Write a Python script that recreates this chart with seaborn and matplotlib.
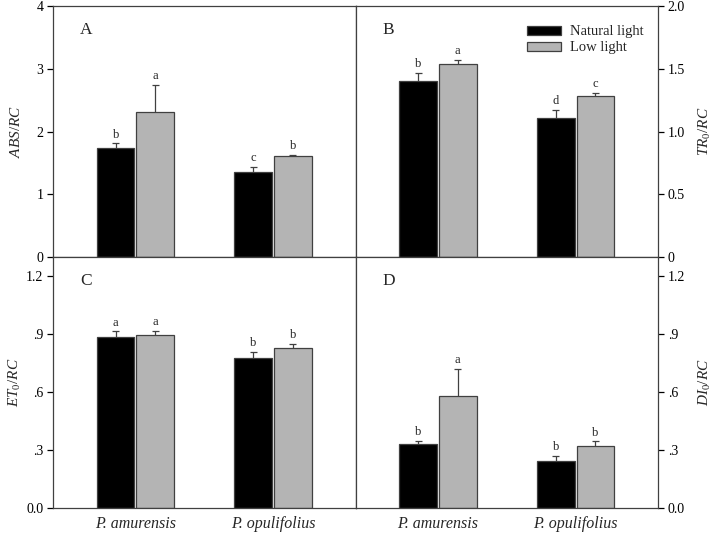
import pandas as pd
import matplotlib
matplotlib.use("Agg")
import matplotlib.pyplot as plt
import seaborn as sns

# data
species = ['P. amurensis', 'P. opulifolius']
lights = ['Natural light', 'Low light']

abs_nat = [1.74, 1.35]
abs_low = [2.31, 1.61]
abs_nat_err = [0.07, 0.09]
abs_low_err = [0.43, 0.02]
abs_nat_sig = ['b', 'c']
abs_low_sig = ['a', 'b']

tr_nat = [1.405, 1.111]
tr_low = [1.536, 1.286]
tr_nat_err = [0.062, 0.061]
tr_low_err = [0.037, 0.024]
tr_nat_sig = ['b', 'd']
tr_low_sig = ['a', 'c']

et_nat = [0.888, 0.777]
et_low = [0.898, 0.831]
et_nat_err = [0.027, 0.031]
et_low_err = [0.019, 0.019]
et_nat_sig = ['a', 'b']
et_low_sig = ['a', 'b']

di_nat = [0.332, 0.242]
di_low = [0.579, 0.323]
di_nat_err = [0.017, 0.027]
di_low_err = [0.141, 0.022]
di_nat_sig = ['b', 'b']
di_low_sig = ['a', 'b']

sns.set_style("ticks")
plt.rcParams['font.family'] = ['Liberation Serif', 'DejaVu Serif']
plt.rcParams['mathtext.fontset'] = 'custom'
plt.rcParams['mathtext.it'] = 'Liberation Serif:italic'
plt.rcParams['mathtext.rm'] = 'Liberation Serif'

edge = '#404040'
colors = ['black', '#b4b4b4']

fig, axes = plt.subplots(2, 2, figsize=(7.14, 5.36), dpi=100)
fig.subplots_adjust(left=0.0742, right=0.9216, top=0.9888, bottom=0.0522,
                    wspace=0, hspace=0)

panels = [
    ('A', axes[0, 0], abs_nat, abs_low, abs_nat_err, abs_low_err, abs_nat_sig, abs_low_sig,
     r'$\mathit{ABS/RC}$', (0, 4), [0, 1, 2, 3, 4], ['0', '1', '2', '3', '4']),
    ('B', axes[0, 1], tr_nat, tr_low, tr_nat_err, tr_low_err, tr_nat_sig, tr_low_sig,
     r'$\mathit{TR_0/RC}$', (0, 2), [0, 0.5, 1, 1.5, 2], ['0', '0.5', '1.0', '1.5', '2.0']),
    ('C', axes[1, 0], et_nat, et_low, et_nat_err, et_low_err, et_nat_sig, et_low_sig,
     r'$\mathit{ET_0/RC}$', (0, 1.3), [0, 0.3, 0.6, 0.9, 1.2], ['0.0', '.3', '.6', '.9', '1.2']),
    ('D', axes[1, 1], di_nat, di_low, di_nat_err, di_low_err, di_nat_sig, di_low_sig,
     r'$\mathit{DI_0/RC}$', (0, 1.3), [0, 0.3, 0.6, 0.9, 1.2], ['0.0', '.3', '.6', '.9', '1.2']),
]

for tag, ax, nat, low, nat_err, low_err, nat_sig, low_sig, ylab, ylim, yt, ytl in panels:
    df = pd.DataFrame({
        'species': species * 2,
        'light': [lights[0]] * 2 + [lights[1]] * 2,
        'value': nat + low,
    })
    sns.barplot(data=df, x='species', y='value', hue='light', hue_order=lights,
                palette=colors, width=0.575, gap=0.05, errorbar=None,
                edgecolor=edge, linewidth=0.9, legend=(tag == 'B'), ax=ax)

    # upper error bars + significance letters
    for cont, errs, sigs in zip(ax.containers, [nat_err, low_err], [nat_sig, low_sig]):
        for bar, e, s in zip(cont, errs, sigs):
            xc = bar.get_x() + bar.get_width() / 2
            top = bar.get_height()
            ax.vlines(xc, top, top + e, color=edge, lw=0.9)
            ax.hlines(top + e, xc - 0.027, xc + 0.027, color=edge, lw=0.9)
            ax.annotate(s, (xc, top + e), xytext=(0, 2), textcoords='offset points',
                        ha='center', va='bottom', fontsize=9)

    ax.set_xlim(-0.6, 1.6)
    ax.set_ylim(*ylim)
    ax.set_yticks(yt)
    ax.set_yticklabels(ytl)
    ax.set_xlabel('')
    ax.set_ylabel(ylab, fontsize=11)
    ax.tick_params(axis='y', direction='out', length=4, width=0.9, colors='black',
                   labelsize=10, pad=3)
    ax.tick_params(axis='x', length=0, labelsize=11.5, pad=6)
    for sp in ax.spines.values():
        sp.set_visible(True)
        sp.set_color(edge)
        sp.set_linewidth(0.9)
    if tag in ('A', 'B'):
        ax.set_xticklabels([])
    else:
        for lab in ax.get_xticklabels():
            lab.set_fontstyle('italic')
    if tag in ('B', 'D'):
        ax.yaxis.tick_right()
        ax.yaxis.set_label_position('right')
        ax.yaxis.set_label_coords(1.13, 0.5)
    else:
        ax.yaxis.set_label_coords(-0.10, 0.5)
    ax.text(0.09, 0.935, tag, transform=ax.transAxes, fontsize=12.5, va='top', ha='left')

sns.move_legend(axes[0, 1], 'upper right', bbox_to_anchor=(0.995, 0.975), frameon=False,
                title=None, fontsize=10.5, handlelength=2.3, handleheight=0.6,
                labelspacing=0.2, handletextpad=0.6)

fig.savefig('out.png', dpi=100)
